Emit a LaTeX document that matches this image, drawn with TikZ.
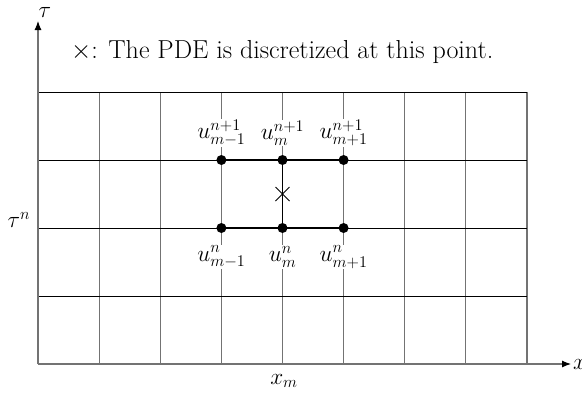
\RequirePackage{fix-cm}
\documentclass[tikz,border=0pt]{standalone}
\usetikzlibrary{arrows.meta,calc}
\begin{document}
\begin{tikzpicture}[x=1pt,y=-1pt,
  vline/.style={draw=black!55,line width=1.1pt},
  hline/.style={draw=black,line width=0.7pt},
  axis/.style={draw=black!55,line width=1.1pt,-{Latex[length=9pt,width=7pt,color=black]}},
  bold/.style={draw=black,line width=1.8pt},
  dot/.style={circle,fill=black,inner sep=0pt,minimum size=10pt},
  lab/.style={fill=white,inner sep=1pt,font=\fontsize{23.3}{28}\selectfont},
  txt/.style={inner sep=0pt,font=\fontsize{23.3}{28}\selectfont}]
\useasboundingbox (0,0) rectangle (582,392);
% coordinates
\foreach \i/\x in {0/38,1/99.1,2/160.2,3/221.4,4/282.5,5/343.6,6/404.8,7/465.9,8/527}{
  \coordinate (t\i) at (\x,92);
  \coordinate (b\i) at (\x,364);
}
\foreach \j/\y in {0/92,1/160,2/228,3/296}{
  \coordinate (l\j) at (38,\y);
  \coordinate (r\j) at (527,\y);
}
% grid
\foreach \i in {1,...,8}{ \draw[vline] (t\i) -- (b\i); }
\foreach \j in {0,...,3}{ \draw[hline] (l\j) -- (r\j); }
% axes
\coordinate (o) at (38,364);
\coordinate (xe) at (571,364);
\coordinate (ye) at (38,21);
\draw[axis] (o) -- (xe);
\draw[axis] (o) -- (ye);
% stencil points
\node[dot] (p1) at (221.4,160) {};
\node[dot] (p2) at (282.5,160) {};
\node[dot] (p3) at (343.6,160) {};
\node[dot] (q1) at (221.4,228) {};
\node[dot] (q2) at (282.5,228) {};
\node[dot] (q3) at (343.6,228) {};
\draw[bold] (p1.center) -- (p3.center);
\draw[bold] (q1.center) -- (q3.center);
\draw[bold] (p2.center) -- (q2.center);
% cross
\coordinate (c) at (282.5,194);
\draw[black,line width=1pt] ($(c)+(-7,-7)$) -- ($(c)+(7,7)$);
\draw[black,line width=1pt] ($(c)+(-7,7)$) -- ($(c)+(7,-7)$);
% labels
\node[lab] (u1) at (221.4,133) {$u^{n+1}_{m-1}$};
\node[lab] (u2) at (282.5,133) {$u^{n+1}_{m}$};
\node[lab] (u3) at (343.6,133) {$u^{n+1}_{m+1}$};
\node[lab] (v1) at (221.4,257) {$u^{n}_{m-1}$};
\node[lab] (v2) at (282.5,257) {$u^{n}_{m}$};
\node[lab] (v3) at (343.6,257) {$u^{n}_{m+1}$};
\node[txt] (tau) at (45,12) {$\tau$};
\node[txt] (taun) at (19,220) {$\tau^n$};
\node[txt] (xm) at (284,381) {$x_m$};
\node[txt,anchor=west] (xl) at (573,364) {$x$};
\node[inner sep=0pt,anchor=base west,font=\fontsize{26}{30}\selectfont] (title) at (71,58) {$\times$: The PDE is discretized at this point.};
\end{tikzpicture}
\end{document}
